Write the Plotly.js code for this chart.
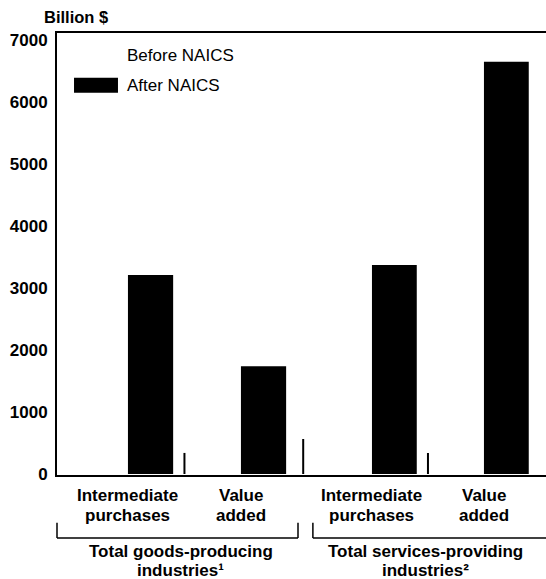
<!DOCTYPE html>
<html>
<head>
<meta charset="utf-8">
<script src="https://cdn.plot.ly/plotly-3.0.1.min.js"></script>
<style>
  html, body { margin: 0; padding: 0; background: #ffffff; }
  #chart { width: 546px; height: 579px; }
</style>
</head>
<body>
<div id="chart"></div>
<script>
// ---- data ----
const groupLines = [
  ['Total goods-producing', 'industries\u00b9'],
  ['Total services-providing', 'industries\u00b2']
];
const components = ['Intermediate purchases', 'Value added'];
const componentLines = [['Intermediate', 'purchases'], ['Value', 'added']];
const seriesNames = ['Before NAICS', 'After NAICS'];
// order: goods intermediate, goods value added, services intermediate, services value added
const beforeNaics = [3300, 1850, 3280, 6540];
const afterNaics = [3210, 1740, 3370, 6650];
const yTickVals = [0, 1000, 2000, 3000, 4000, 5000, 6000, 7000];
const yTitle = 'Billion $';

// ---- styles ----
const FONT = 'Liberation Sans, Arial, Helvetica, sans-serif';
const seriesColors = ['#ffffff', '#000000'];
const seriesValues = [beforeNaics, afterNaics];
const axisIds = ['x', 'x2'];

const traces = [];
for (let g = 0; g < 2; g++) {
  for (let s = 0; s < 2; s++) {
    traces.push({
      type: 'bar',
      name: seriesNames[s],
      x: components,
      y: seriesValues[s].slice(2 * g, 2 * g + 2),
      xaxis: axisIds[g],
      yaxis: 'y',
      marker: { color: seriesColors[s], line: { width: 0 } },
      showlegend: false,
      hoverinfo: 'x+y+name'
    });
  }
}

const boldFont = { family: FONT, size: 17, color: '#000', weight: 'bold' };

const xCommon = {
  type: 'category',
  showticklabels: false,
  showline: true,
  mirror: true,
  linecolor: '#000',
  linewidth: 2,
  ticks: '',
  showgrid: false,
  zeroline: false,
  anchor: 'y',
  fixedrange: true
};

const layout = {
  width: 546,
  height: 579,
  margin: { l: 57, r: 0, t: 33, b: 104, pad: 0 },
  paper_bgcolor: '#ffffff',
  plot_bgcolor: '#ffffff',
  barmode: 'group',
  bargap: 0.2,
  bargroupgap: 0,
  showlegend: false,
  font: { family: FONT, color: '#000' },
  xaxis: Object.assign({}, xCommon, { domain: [0, 0.506], range: [-0.628, 1.562] }),
  xaxis2: Object.assign({}, xCommon, { domain: [0.506, 1], range: [-0.603, 1.554] }),
  yaxis: {
    range: [-16, 7113],
    tickmode: 'array',
    tickvals: yTickVals,
    tickfont: boldFont,
    ticklabelstandoff: 4,
    showline: true,
    linecolor: '#000',
    linewidth: 2,
    ticks: '',
    showgrid: false,
    zeroline: false,
    anchor: 'x',
    fixedrange: true
  },
  shapes: [],
  annotations: []
};

// category labels (two lines each)
const compLineY = [-0.0475, -0.0905];
for (let g = 0; g < 2; g++) {
  components.forEach((c, k) => {
    componentLines[k].forEach((txt, i) => {
      layout.annotations.push({
        text: txt, xref: axisIds[g], yref: 'paper', x: c, y: compLineY[i],
        xanchor: 'center', yanchor: 'middle', showarrow: false, font: boldFont
      });
    });
  });
}

// separators between bar pairs
layout.shapes.push(
  { type: 'line', xref: 'x', yref: 'y', x0: 0.5, x1: 0.5, y0: 0, y1: 340, line: { color: '#000', width: 2 } },
  { type: 'line', xref: 'x domain', yref: 'y', x0: 0.995, x1: 0.995, y0: 0, y1: 565, line: { color: '#000', width: 2 } },
  { type: 'line', xref: 'x2', yref: 'y', x0: 0.5, x1: 0.5, y0: 0, y1: 340, line: { color: '#000', width: 2 } }
);

// brackets under the category labels
const bTop = -0.108, bBot = -0.1425;
const bl = { color: '#000', width: 1.5 };
layout.shapes.push(
  { type: 'line', xref: 'x domain', yref: 'paper', x0: 0, x1: 0, y0: bTop, y1: bBot, line: bl },
  { type: 'line', xref: 'x domain', yref: 'paper', x0: 0, x1: 0.974, y0: bBot, y1: bBot, line: bl },
  { type: 'line', xref: 'x domain', yref: 'paper', x0: 0.974, x1: 0.974, y0: bTop, y1: bBot, line: bl },
  { type: 'line', xref: 'x2 domain', yref: 'paper', x0: 0.035, x1: 0.035, y0: bTop, y1: bBot, line: bl },
  { type: 'line', xref: 'x2 domain', yref: 'paper', x0: 0.035, x1: 1, y0: bBot, y1: bBot, line: bl }
);

// group titles
const groupRefs = ['x domain', 'x2 domain'];
const lineY = [-0.172, -0.215];
groupLines.forEach((lines, g) => {
  lines.forEach((txt, i) => {
    layout.annotations.push({
      text: txt, xref: groupRefs[g], yref: 'paper', x: 0.5, y: lineY[i],
      xanchor: 'center', yanchor: 'middle', showarrow: false, font: boldFont
    });
  });
});

// y-axis unit label
layout.annotations.push({
  text: yTitle, xref: 'paper', yref: 'paper', x: -0.031, y: 1.036,
  xanchor: 'left', yanchor: 'middle', showarrow: false,
  font: { family: FONT, size: 16.5, color: '#000', weight: 'bold' }
});

// manual legend (wide swatches as in the original)
const legY = [0.948, 0.882];
const swH = 0.017;
seriesNames.forEach((nm, s) => {
  layout.shapes.push({
    type: 'rect', xref: 'paper', yref: 'paper',
    x0: 0.0348, x1: 0.1247, y0: legY[s] - swH, y1: legY[s] + swH,
    fillcolor: seriesColors[s], line: { width: 0 }
  });
  layout.annotations.push({
    text: nm, xref: 'paper', yref: 'paper', x: 0.139, y: legY[s],
    xanchor: 'left', yanchor: 'middle', showarrow: false,
    font: { family: FONT, size: 17, color: '#000' }
  });
});

Plotly.newPlot('chart', traces, layout, { staticPlot: true, displayModeBar: false });
</script>
</body>
</html>
